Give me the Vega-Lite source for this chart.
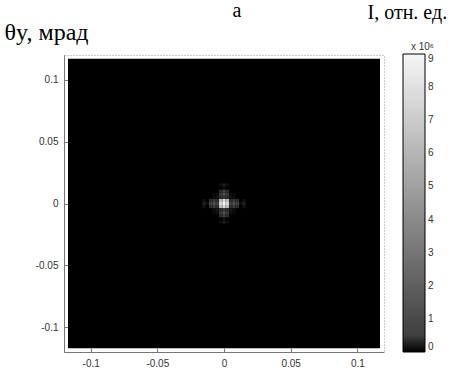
{
  "$schema": "https://vega.github.io/schema/vega-lite/v6.json",
  "width": 320,
  "height": 297,
  "autosize": {"type": "none"},
  "padding": {"left": 64, "top": 55, "right": 70, "bottom": 19},
  "background": "white",
  "title": {"text": "а", "font": "Liberation Serif", "fontSize": 20, "fontWeight": "normal", "color": "#000", "anchor": "middle", "offset": 0, "baseline": "alphabetic", "dx": 13, "dy": 35},
  "config": {
    "view": {"stroke": "#999", "strokeDash": [1, 2]},
    "axis": {
      "grid": false,
      "domainColor": "#777",
      "tickColor": "#777",
      "tickSize": -4,
      "labelPadding": 10,
      "labelFont": "Liberation Sans",
      "labelFontSize": 10,
      "labelColor": "#333",
      "titleFont": "Liberation Serif",
      "titleFontSize": 20,
      "titleFontWeight": "normal",
      "titleColor": "#000",
      "titleAngle": 0,
      "titleAlign": "left",
      "titleBaseline": "alphabetic"
    }
  },
  "layer": [
    {
      "data": {"values": [{"x": -0.117, "x2": 0.117, "y": -0.117, "y2": 0.117, "v": 0}]},
      "mark": {"type": "rect"},
      "encoding": {
        "x": {"field": "x", "type": "quantitative", "scale": {"domain": [-0.12, 0.12], "nice": false, "zero": false},
              "axis": {"values": [-0.1, -0.05, 0, 0.05, 0.1], "labelExpr": "'' + datum.value", "title": "I, отн. ед.", "titleX": 303, "titleY": -334}},
        "x2": {"field": "x2"},
        "y": {"field": "y", "type": "quantitative", "scale": {"domain": [-0.12, 0.12], "nice": false, "zero": false},
              "axis": {"values": [-0.1, -0.05, 0, 0.05, 0.1], "labelExpr": "'' + datum.value", "title": "θy, мрад", "titleX": -60, "titleY": -16, "titleFontSize": 24}},
        "y2": {"field": "y2"},
        "color": {
          "field": "v", "type": "quantitative",
          "scale": {"type": "linear", "domain": [0, 0.15, 0.35, 9], "range": ["#000000", "#151515", "#3c3c3c", "#f6f6f6"], "clamp": true, "interpolate": "rgb"},
          "legend": {
            "orient": "none", "legendX": 339, "legendY": -13, "direction": "vertical", "type": "gradient",
            "title": "x 10⁶", "titleFont": "Liberation Sans", "titleFontSize": 10, "titleFontWeight": "normal", "titleColor": "#333", "titleAnchor": "end", "titlePadding": 2,
            "gradientLength": 298, "gradientThickness": 22, "gradientStrokeColor": "#000", "gradientStrokeWidth": 1,
            "labelFont": "Liberation Sans", "labelFontSize": 10, "labelColor": "#333", "labelOffset": 3, "labelBaseline": "middle",
            "values": [0, 1, 2, 3, 4, 5, 6, 7, 8, 9]
          }
        }
      }
    },
    {
      "data": {"values": [
        {"x": 0, "y": 0, "v": 9},
        {"x": 0.0025, "y": 0, "v": 7.56}, {"x": -0.0025, "y": 0, "v": 7.56}, {"x": 0, "y": 0.0025, "v": 7.56}, {"x": 0, "y": -0.0025, "v": 7.56},
        {"x": 0.0025, "y": 0.0025, "v": 6.16}, {"x": -0.0025, "y": 0.0025, "v": 6.16}, {"x": 0.0025, "y": -0.0025, "v": 6.16}, {"x": -0.0025, "y": -0.0025, "v": 6.16},
        {"x": 0.005, "y": 0, "v": 0.35}, {"x": -0.005, "y": 0, "v": 0.35}, {"x": 0, "y": 0.005, "v": 0.35}, {"x": 0, "y": -0.005, "v": 0.35},
        {"x": 0.005, "y": 0.0025, "v": 0.27}, {"x": 0.005, "y": -0.0025, "v": 0.27}, {"x": -0.005, "y": 0.0025, "v": 0.27}, {"x": -0.005, "y": -0.0025, "v": 0.27},
        {"x": 0.0025, "y": 0.005, "v": 0.27}, {"x": -0.0025, "y": 0.005, "v": 0.27}, {"x": 0.0025, "y": -0.005, "v": 0.27}, {"x": -0.0025, "y": -0.005, "v": 0.27},
        {"x": 0.005, "y": 0.005, "v": 0.14}, {"x": -0.005, "y": 0.005, "v": 0.14}, {"x": 0.005, "y": -0.005, "v": 0.14}, {"x": -0.005, "y": -0.005, "v": 0.14},
        {"x": 0.0075, "y": 0, "v": 1.28}, {"x": -0.0075, "y": 0, "v": 1.28}, {"x": 0, "y": 0.0075, "v": 1.28}, {"x": 0, "y": -0.0075, "v": 1.28},
        {"x": 0.0075, "y": 0.0025, "v": 0.35}, {"x": 0.0075, "y": -0.0025, "v": 0.35}, {"x": -0.0075, "y": 0.0025, "v": 0.35}, {"x": -0.0075, "y": -0.0025, "v": 0.35},
        {"x": 0.0025, "y": 0.0075, "v": 0.35}, {"x": -0.0025, "y": 0.0075, "v": 0.35}, {"x": 0.0025, "y": -0.0075, "v": 0.35}, {"x": -0.0025, "y": -0.0075, "v": 0.35},
        {"x": 0.0075, "y": 0.005, "v": 0.107}, {"x": 0.0075, "y": -0.005, "v": 0.107}, {"x": -0.0075, "y": 0.005, "v": 0.107}, {"x": -0.0075, "y": -0.005, "v": 0.107},
        {"x": 0.005, "y": 0.0075, "v": 0.107}, {"x": -0.005, "y": 0.0075, "v": 0.107}, {"x": 0.005, "y": -0.0075, "v": 0.107}, {"x": -0.005, "y": -0.0075, "v": 0.107},
        {"x": 0.01, "y": 0, "v": 0.58}, {"x": -0.01, "y": 0, "v": 0.58}, {"x": 0, "y": 0.01, "v": 0.58}, {"x": 0, "y": -0.01, "v": 0.58},
        {"x": 0.01, "y": 0.0025, "v": 0.27}, {"x": 0.01, "y": -0.0025, "v": 0.27}, {"x": -0.01, "y": 0.0025, "v": 0.27}, {"x": -0.01, "y": -0.0025, "v": 0.27},
        {"x": 0.0025, "y": 0.01, "v": 0.27}, {"x": -0.0025, "y": 0.01, "v": 0.27}, {"x": 0.0025, "y": -0.01, "v": 0.27}, {"x": -0.0025, "y": -0.01, "v": 0.27},
        {"x": 0.0125, "y": 0, "v": 0.107}, {"x": -0.0125, "y": 0, "v": 0.107}, {"x": 0, "y": 0.0125, "v": 0.107}, {"x": 0, "y": -0.0125, "v": 0.107},
        {"x": 0.015, "y": 0, "v": 0.196}, {"x": -0.015, "y": 0, "v": 0.196}, {"x": 0, "y": 0.015, "v": 0.196}, {"x": 0, "y": -0.015, "v": 0.196},
        {"x": 0.015, "y": 0.0025, "v": 0.107}, {"x": 0.015, "y": -0.0025, "v": 0.107}, {"x": -0.015, "y": 0.0025, "v": 0.107}, {"x": -0.015, "y": -0.0025, "v": 0.107},
        {"x": 0.0025, "y": 0.015, "v": 0.107}, {"x": -0.0025, "y": 0.015, "v": 0.107}, {"x": 0.0025, "y": -0.015, "v": 0.107}, {"x": -0.0025, "y": -0.015, "v": 0.107},
        {"x": 0.0075, "y": 0.0075, "v": 0.07}, {"x": -0.0075, "y": 0.0075, "v": 0.07}, {"x": 0.0075, "y": -0.0075, "v": 0.07}, {"x": -0.0075, "y": -0.0075, "v": 0.07}
      ]},
      "mark": {"type": "rect", "width": 3.4, "height": 3.15},
      "encoding": {
        "x": {"field": "x", "type": "quantitative"},
        "y": {"field": "y", "type": "quantitative"},
        "color": {"field": "v", "type": "quantitative"}
      }
    }
  ]
}
